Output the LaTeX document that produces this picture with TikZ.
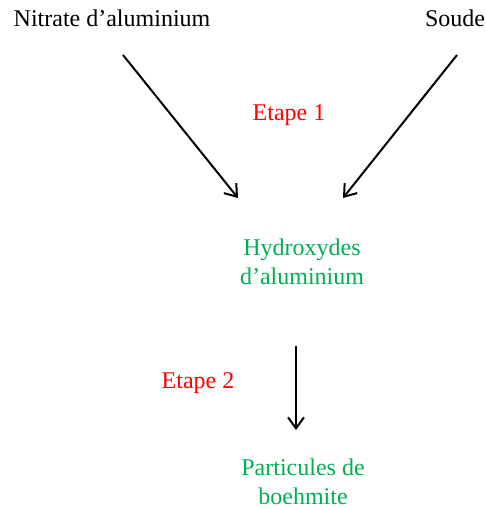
\documentclass[tikz,border=0pt]{standalone}
\usepackage{fontspec}
\setmainfont{Liberation Serif}
\usetikzlibrary{arrows.meta}
\definecolor{stepred}{RGB}{255,0,0}
\definecolor{prodgreen}{RGB}{0,176,80}
\begin{document}
\begin{tikzpicture}[x=1pt,y=-1pt,every node/.style={font=\fontsize{24}{29}\selectfont,align=center,inner sep=0pt},
  reac/.style={draw,line width=2pt,-{Straight Barb[length=11pt,width=16pt,line width=2pt]}}]
\useasboundingbox (0,0) rectangle (486,509);
% reactifs
\node (nitrate) at (112,18) {Nitrate d'aluminium};
\node (soude) at (455,18) {Soude};
\node[text=stepred] (etape1) at (289,115) {Etape 1};
% produit intermediaire
\node[text=prodgreen] (hydroxydes) at (302,262) {Hydroxydes\\d'aluminium};
\coordinate (n1) at (123,55);
\coordinate (n2) at (238,198);
\coordinate (s1) at (457,55);
\coordinate (s2) at (343,198);
\draw[reac] (n1) -- (n2);
\draw[reac] (s1) -- (s2);
% etape 2
\node[text=stepred] (etape2) at (198,383) {Etape 2};
\node[text=prodgreen] (particules) at (303,482) {Particules de\\boehmite};
\coordinate (h1) at (296,346);
\coordinate (h2) at (296,430);
\draw[reac] (h1) -- (h2);
\end{tikzpicture}
\end{document}
